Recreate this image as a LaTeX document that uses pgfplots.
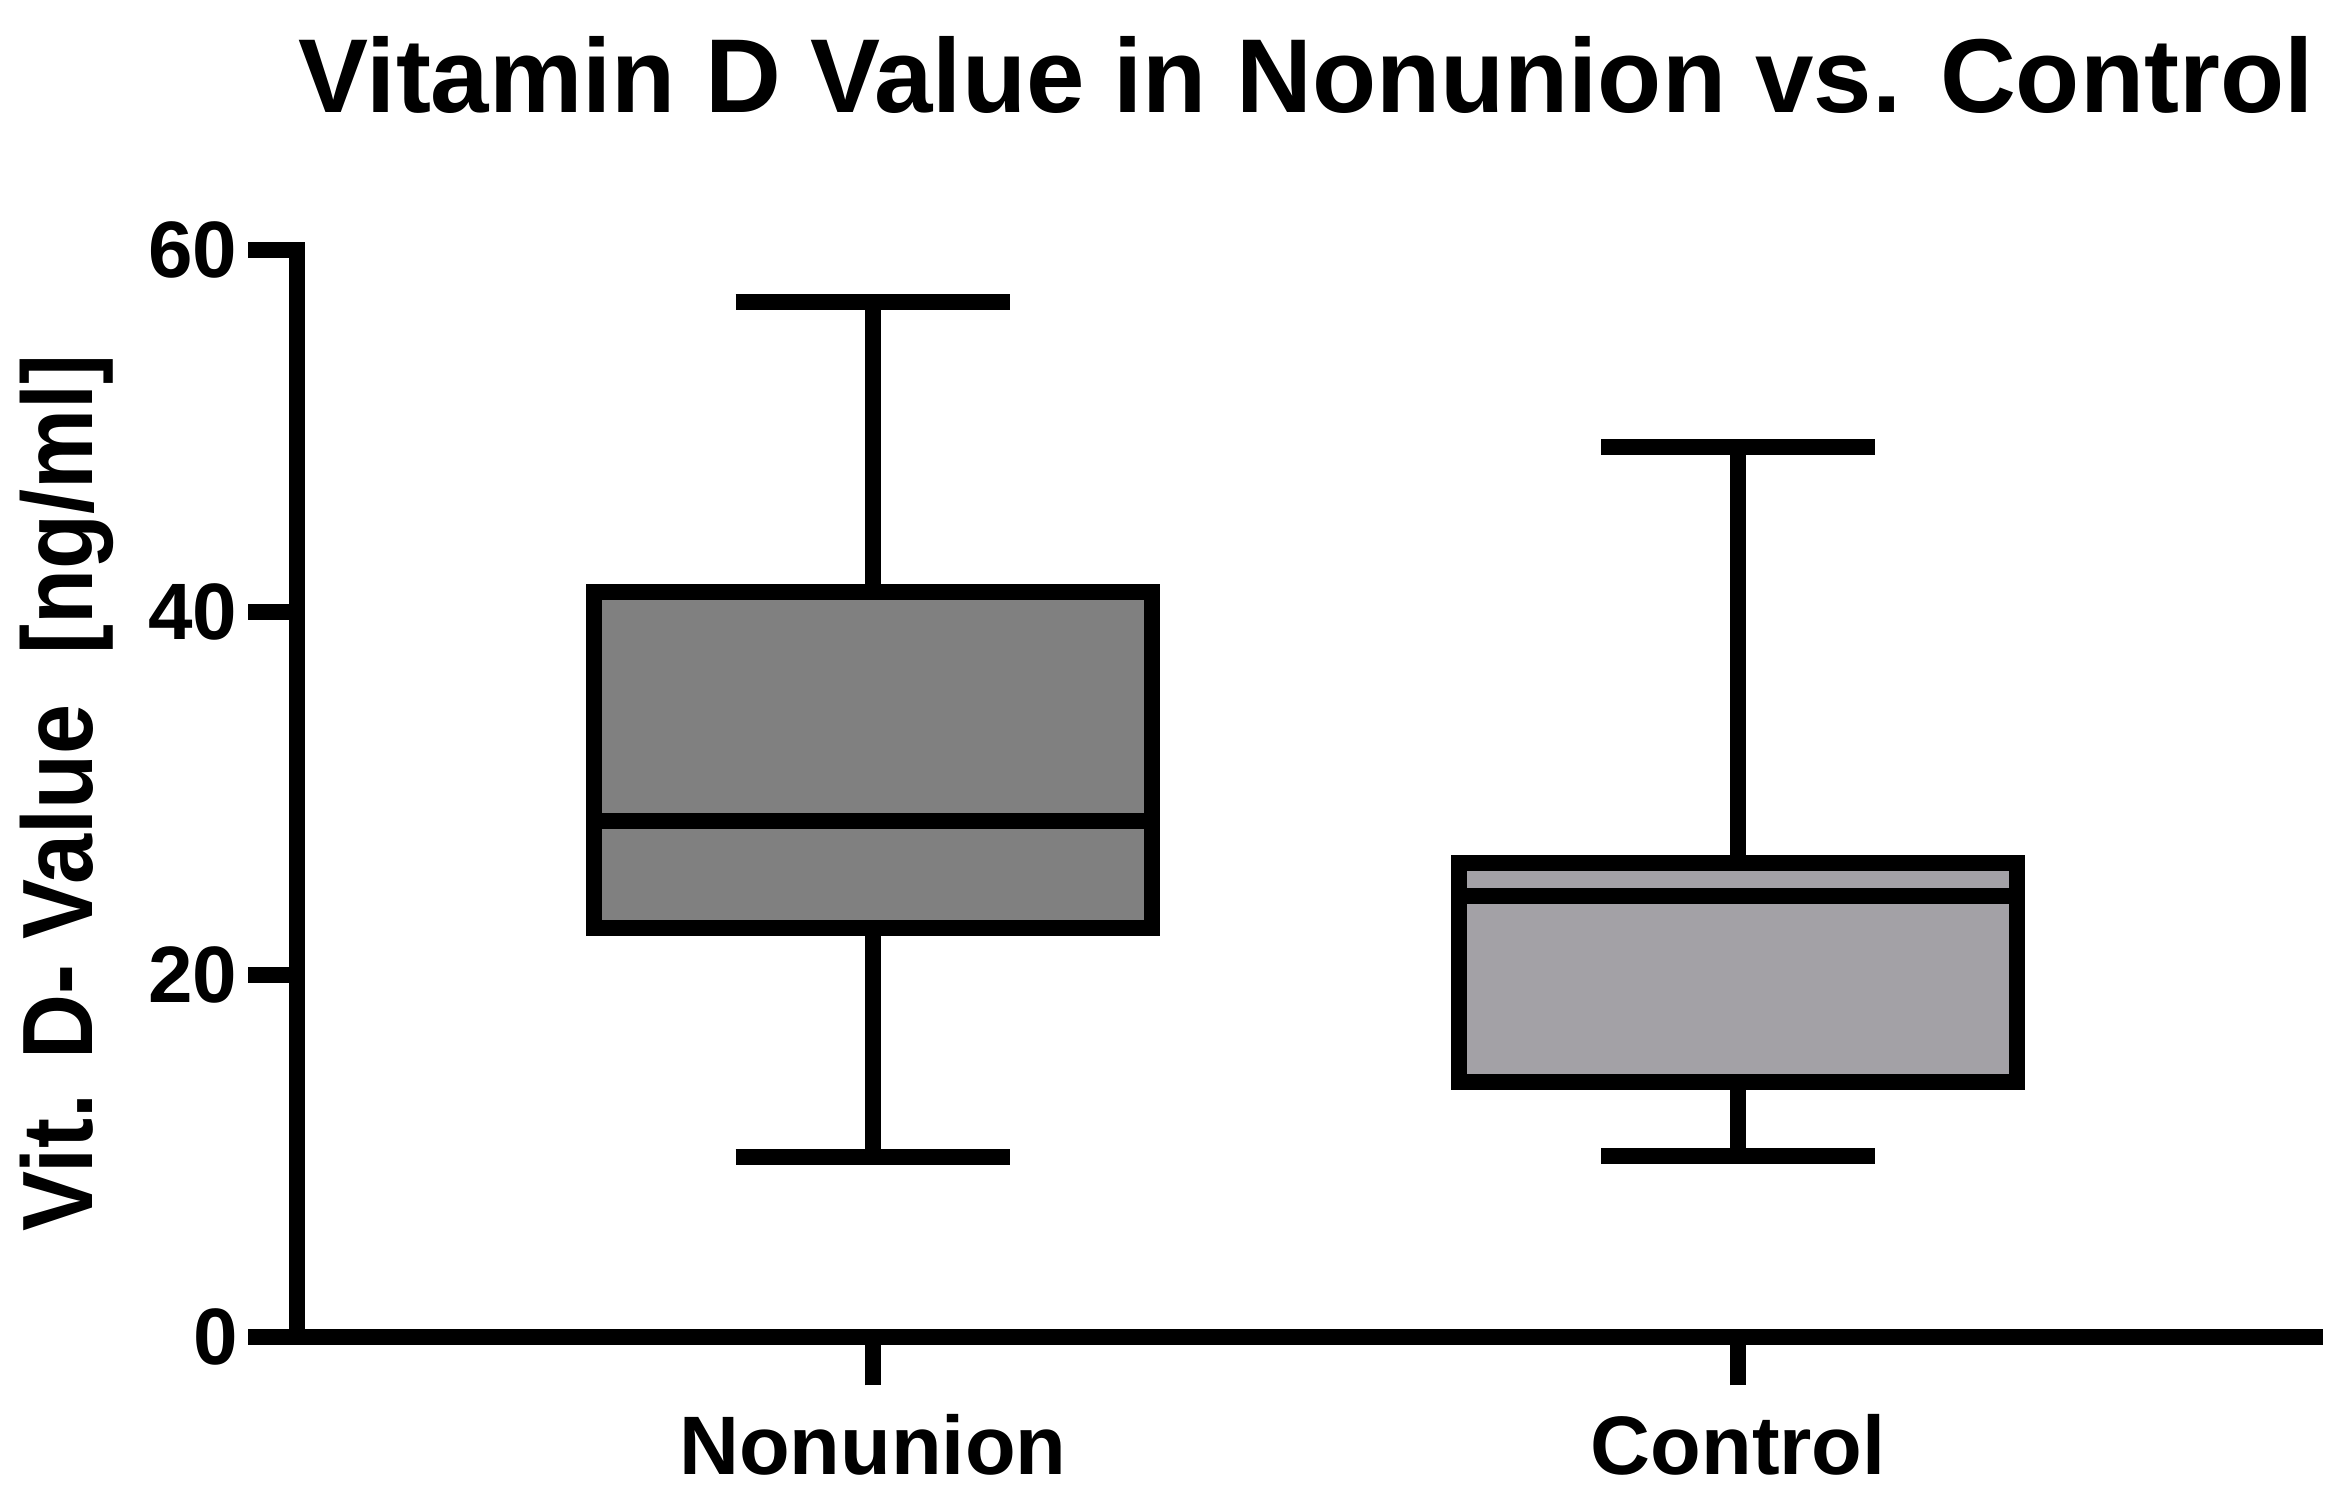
\documentclass[border=0pt]{standalone}
\usepackage{fontspec}
\setmainfont{Liberation Sans}
\usepackage{pgfplots}
\pgfplotsset{compat=1.18}
\definecolor{nonfill}{RGB}{128,128,128}
\definecolor{ctrlfill}{RGB}{163,161,166}
\begin{document}
\begin{tikzpicture}
\begin{axis}[
  scale only axis,
  width=403.6pt, height=217.5pt,
  xmin=-0.6653, xmax=1.6665,
  ymin=0, ymax=60,
  axis x line=bottom, axis y line=left,
  axis line style={line width=3.2pt, line cap=rect, -},
  every tick/.style={black, line width=3.2pt},
  tick align=outside,
  major tick length=9.7pt,
  xtick={0,1}, xticklabels={Nonunion,Control},
  ytick={0,20,40,60},
  /pgf/number format/assume math mode=true,
  yticklabel style={font=\bfseries\fontsize{16}{16}\selectfont, inner sep=2pt},
  xticklabel style={font=\bfseries\fontsize{16.6}{16.6}\selectfont, yshift=-2.2pt},
  ylabel={\scalebox{0.9}[1]{Vit. D- Value\ \ [ng/ml]}},
  ylabel style={font=\bfseries\fontsize{20}{20}\selectfont, at={(axis description cs:-0.114,0.5)}, anchor=center},
  title={Vitamin D Value in Nonunion vs. Control},
  title style={font=\bfseries\fontsize{21}{21}\selectfont, at={(axis description cs:0.5,1)}, anchor=base, yshift=21.4pt},
  clip=false,
  every axis plot/.append style={line width=3.2pt, line join=miter, mark=none},
]
% Nonunion (x = 0): whiskers and caps
\addplot[black, line cap=rect] coordinates {(0,41.10) (0,57.10)};
\addplot[black, line cap=butt] coordinates {(-0.1585,57.10) (0.1585,57.10)};
\addplot[black, line cap=rect] coordinates {(0,22.57) (0,9.95)};
\addplot[black, line cap=butt] coordinates {(-0.1585,9.95) (0.1585,9.95)};
% box
\addplot[draw=black, fill=nonfill, line cap=rect] coordinates {(-0.3225,22.57) (0.3225,22.57) (0.3225,41.10) (-0.3225,41.10) (-0.3225,22.57)};
% median
\addplot[black, line cap=butt] coordinates {(-0.3225,28.47) (0.3225,28.47)};
% Control (x = 1)
\addplot[black, line cap=rect] coordinates {(1,26.15) (1,49.10)};
\addplot[black, line cap=butt] coordinates {(0.8415,49.10) (1.1585,49.10)};
\addplot[black, line cap=rect] coordinates {(1,14.05) (1,10.00)};
\addplot[black, line cap=butt] coordinates {(0.8415,10.00) (1.1585,10.00)};
\addplot[draw=black, fill=ctrlfill, line cap=rect] coordinates {(0.6775,14.05) (1.3225,14.05) (1.3225,26.15) (0.6775,26.15) (0.6775,14.05)};
\addplot[black, line cap=butt] coordinates {(0.6775,24.35) (1.3225,24.35)};
\end{axis}
\pgfresetboundingbox
\path[use as bounding box] (-59.4pt,-32pt) rectangle (408.8pt,267.4pt);
\end{tikzpicture}
\end{document}
